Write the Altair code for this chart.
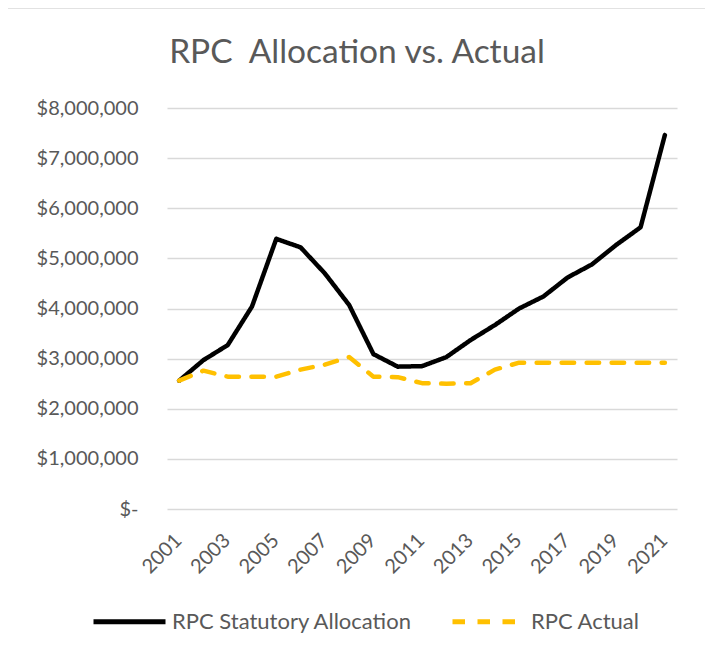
import altair as alt
import pandas as pd

years = list(range(2001, 2022))
statutory_m = [2.56, 2.97, 3.27, 4.04, 5.39, 5.22, 4.70, 4.07, 3.09, 2.84, 2.85,
               3.03, 3.37, 3.67, 4.00, 4.24, 4.62, 4.88, 5.27, 5.62, 7.46]
actual_m = [2.56, 2.76, 2.64, 2.64, 2.64, 2.78, 2.88, 3.03, 2.64, 2.63, 2.51,
            2.50, 2.51, 2.78, 2.92, 2.92, 2.92, 2.92, 2.92, 2.92, 2.92]
series_names = ["RPC Statutory Allocation", "RPC Actual"]
x_label_years = list(range(2001, 2022, 2))

rows = []
for name, vals in zip(series_names, [statutory_m, actual_m]):
    for yr, v in zip(years, vals):
        rows.append({"year": yr, "value": v * 1_000_000, "series": name})
df = pd.DataFrame(rows)

FONT = "Lato"
GREY = "#595959"
GRID = "#d9d9d9"

lines = alt.Chart(df).mark_line(strokeWidth=4.5, strokeCap="round", strokeJoin="round").encode(
    x=alt.X("year:O", title=None,
            scale=alt.Scale(padding=0.5),
            axis=alt.Axis(values=x_label_years, labelAngle=-45, ticks=False, domain=False,
                          grid=False, labelPadding=21, labelOffset=-8)),
    y=alt.Y("value:Q", title=None,
            scale=alt.Scale(domain=[0, 8000000], nice=False),
            axis=alt.Axis(values=list(range(0, 8000001, 1000000)), ticks=False, domain=False,
                          grid=True, gridColor=GRID, gridWidth=1.3, labelPadding=29,
                          labelExpr="datum.value == 0 ? '$-\u2007' : '$' + format(datum.value, ',')")),
    color=alt.Color("series:N", sort=series_names,
                    scale=alt.Scale(domain=series_names, range=["#000000", "#FFC000"]),
                    legend=alt.Legend(title=None, orient="none", legendX=-76, legendY=475,
                                      direction="horizontal", symbolType="stroke",
                                      symbolSize=5184, symbolStrokeWidth=5,
                                      labelFont=FONT, labelFontSize=22, labelColor=GREY,
                                      labelLimit=400,
                                      labelOffset=4, columnPadding=29, padding=0)),
    strokeDash=alt.StrokeDash("series:N", sort=series_names,
                              scale=alt.Scale(domain=series_names, range=[[1, 0], [12.5, 12.5]]),
                              legend=None),
)

border = alt.Chart(alt.Data(values=[{}])).mark_rect(filled=False, stroke="#d9d9d9", strokeWidth=1.5).encode(
    x=alt.value(-162), x2=alt.value(541), y=alt.value(-100), y2=alt.value(560)
)

chart = alt.layer(border, lines).properties(
    width=510, height=401,
    background="white",
    title=alt.TitleParams("RPC\u00a0 Allocation vs. Actual", font=FONT, fontSize=33.5,
                          fontWeight="normal", color=GREY, anchor="middle", dx=-65, offset=-63),
    autosize=alt.AutoSizeParams(type="none"),
    padding={"left": 159, "top": 100, "right": 28, "bottom": 134},
).configure_view(stroke=None).configure_axis(
    labelFont=FONT, labelFontSize=20, labelColor=GREY
)

chart.save("out.html", embed_options={"renderer": "svg", "actions": False})
